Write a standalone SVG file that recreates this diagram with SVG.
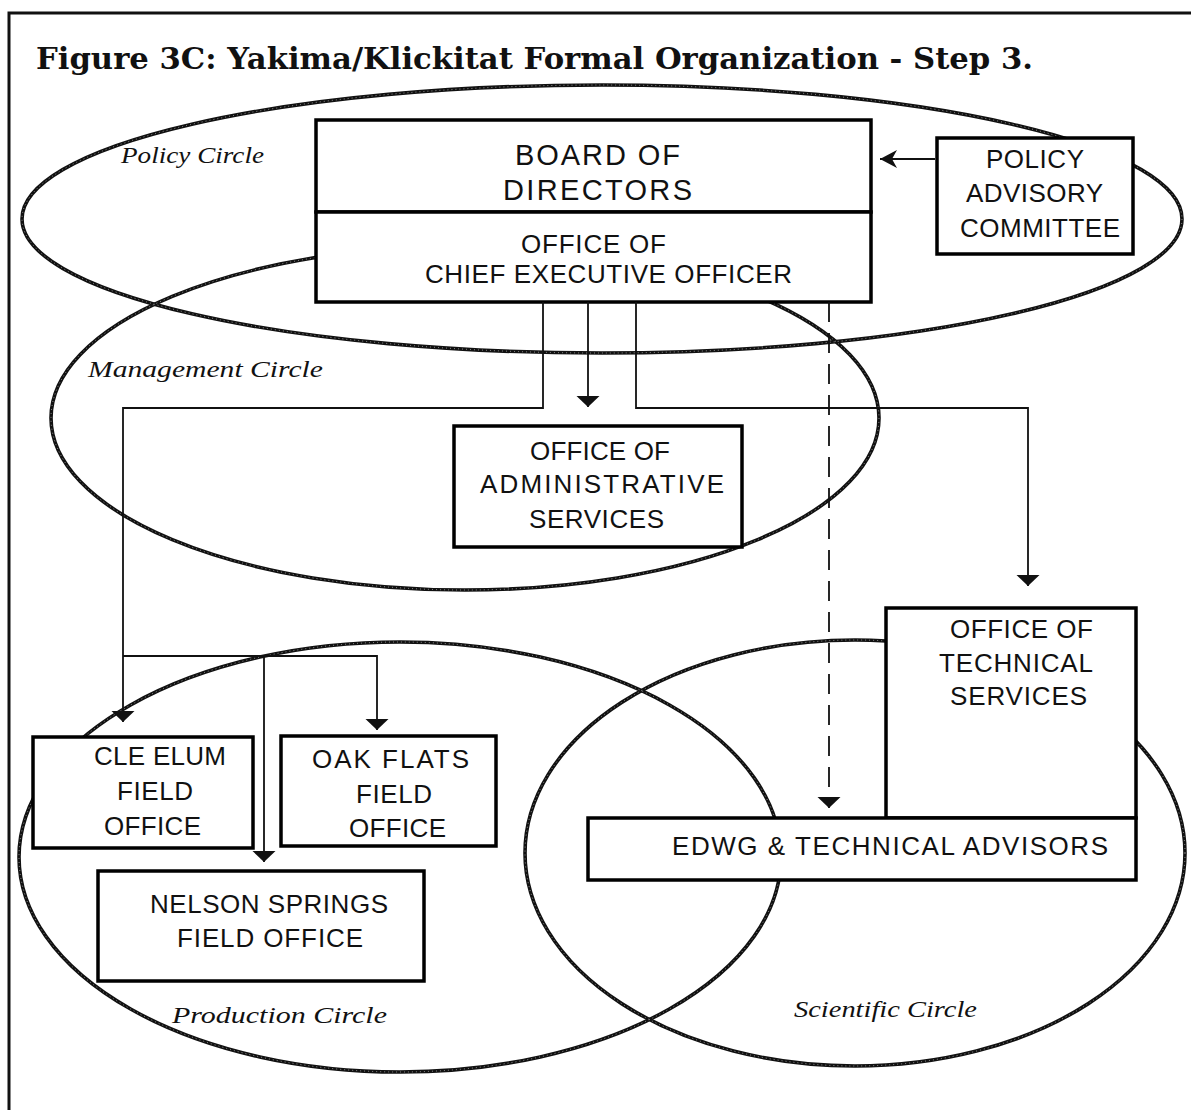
<svg xmlns="http://www.w3.org/2000/svg" width="1191" height="1110" viewBox="0 0 1191 1110">
<style>
.box{fill:#fff;stroke:#000;stroke-width:3.5}
.t{font-family:"Liberation Sans",Arial,sans-serif;font-size:26px;fill:#111}
.tb{font-family:"Liberation Sans",Arial,sans-serif;font-size:29px;fill:#111}
.lbl{font-family:"Liberation Serif","DejaVu Serif",serif;font-style:italic;font-size:24px;fill:#111}
.ell{fill:none;stroke:#111;stroke-width:3.6}
.ellc{fill:none;stroke:#fff;stroke-width:0.9;stroke-dasharray:1 3;opacity:0.6}
.c{fill:none;stroke:#111;stroke-width:1.8}
.d{fill:none;stroke:#111;stroke-width:1.8;stroke-dasharray:20 11}
.frame{fill:none;stroke:#111;stroke-width:3}
.title{font-family:"DejaVu Serif","Liberation Serif",serif;font-weight:bold;font-size:30px;fill:#111}
</style>
<defs>
<marker id="ah" viewBox="0 -12 12 24" refX="11" refY="0" markerWidth="12" markerHeight="24" markerUnits="userSpaceOnUse" orient="auto"><path d="M0,-11.5 L11,0 L0,11.5 z" fill="#111"/></marker>
<marker id="ah2" viewBox="0 -10 18 20" refX="17" refY="0" markerWidth="18" markerHeight="20" markerUnits="userSpaceOnUse" orient="auto"><path d="M0,-9 L17,0 L0,9 L5,0 z" fill="#111"/></marker>
</defs>
<rect width="1191" height="1110" fill="#fff"/>
<path class="frame" d="M9,1110 V13 H1191"/>
<text class="title" x="36" y="69" textLength="997" lengthAdjust="spacingAndGlyphs">Figure 3C: Yakima/Klickitat Formal Organization - Step 3.</text>

<g id="circles">
<ellipse class="ell" cx="602" cy="219" rx="580" ry="134"/>
<ellipse class="ell" cx="465" cy="418" rx="414" ry="172"/>
<ellipse class="ell" cx="400" cy="857" rx="381" ry="215"/>
<ellipse class="ell" cx="855" cy="853" rx="330" ry="213"/>
<ellipse class="ellc" cx="602" cy="219" rx="580" ry="134"/>
<ellipse class="ellc" cx="465" cy="418" rx="414" ry="172"/>
<ellipse class="ellc" cx="400" cy="857" rx="381" ry="215"/>
<ellipse class="ellc" cx="855" cy="853" rx="330" ry="213"/>
<text class="lbl" x="121" y="163" textLength="143" lengthAdjust="spacingAndGlyphs">Policy Circle</text>
<text class="lbl" x="88" y="377" textLength="235" lengthAdjust="spacingAndGlyphs">Management Circle</text>
<text class="lbl" x="172" y="1023" textLength="215" lengthAdjust="spacingAndGlyphs">Production Circle</text>
<text class="lbl" x="794" y="1017" textLength="183" lengthAdjust="spacingAndGlyphs">Scientific Circle</text>
</g>

<g id="board">
<rect class="box" x="316" y="120" width="555" height="92"/>
<text class="tb" x="515" y="165" textLength="165" lengthAdjust="spacing">BOARD OF</text>
<text class="tb" x="503" y="200" textLength="189" lengthAdjust="spacing">DIRECTORS</text>
</g>
<g id="ceo">
<rect class="box" x="316" y="212" width="555" height="90"/>
<text class="t" x="521" y="253" textLength="145" lengthAdjust="spacing">OFFICE OF</text>
<text class="t" x="425" y="283" textLength="367" lengthAdjust="spacing">CHIEF EXECUTIVE OFFICER</text>
</g>
<g id="pac">
<rect class="box" x="937" y="138" width="196" height="116"/>
<text class="t" x="986" y="168" textLength="98" lengthAdjust="spacing">POLICY</text>
<text class="t" x="966" y="202" textLength="137" lengthAdjust="spacing">ADVISORY</text>
<text class="t" x="960" y="237" textLength="160" lengthAdjust="spacing">COMMITTEE</text>
</g>
<g id="admin">
<rect class="box" x="454" y="426" width="288" height="121"/>
<text class="t" x="530" y="460" textLength="140" lengthAdjust="spacing">OFFICE OF</text>
<text class="t" x="480" y="493" textLength="244" lengthAdjust="spacing">ADMINISTRATIVE</text>
<text class="t" x="529" y="528" textLength="135" lengthAdjust="spacing">SERVICES</text>
</g>
<g id="ots">
<rect class="box" x="886" y="608" width="250" height="210"/>
<text class="t" x="950" y="638" textLength="143" lengthAdjust="spacing">OFFICE OF</text>
<text class="t" x="939" y="672" textLength="154" lengthAdjust="spacing">TECHNICAL</text>
<text class="t" x="950" y="705" textLength="137" lengthAdjust="spacing">SERVICES</text>
</g>
<g id="edwg">
<rect class="box" x="588" y="818" width="548" height="62"/>
<text class="t" x="672" y="855" textLength="436" lengthAdjust="spacing">EDWG &amp; TECHNICAL ADVISORS</text>
</g>
<g id="cleelum">
<rect class="box" x="33" y="737" width="220" height="111"/>
<text class="t" x="94" y="765" textLength="132" lengthAdjust="spacing">CLE ELUM</text>
<text class="t" x="117" y="800" textLength="76" lengthAdjust="spacing">FIELD</text>
<text class="t" x="104" y="835" textLength="97" lengthAdjust="spacing">OFFICE</text>
</g>
<g id="oakflats">
<rect class="box" x="281" y="736" width="215" height="110"/>
<text class="t" x="312" y="768" textLength="157" lengthAdjust="spacing">OAK FLATS</text>
<text class="t" x="356" y="803" textLength="76" lengthAdjust="spacing">FIELD</text>
<text class="t" x="349" y="837" textLength="97" lengthAdjust="spacing">OFFICE</text>
</g>
<g id="nelson">
<rect class="box" x="98" y="871" width="326" height="110"/>
<text class="t" x="150" y="913" textLength="238" lengthAdjust="spacing">NELSON SPRINGS</text>
<text class="t" x="177" y="947" textLength="186" lengthAdjust="spacing">FIELD OFFICE</text>
</g>

<g id="connectors">
<path class="c" d="M543,302 V408 H123 V722" marker-end="url(#ah)"/>
<path class="c" d="M123,656 H377 V730" marker-end="url(#ah)"/>
<path class="c" d="M264,656 V862" marker-end="url(#ah)"/>
<path class="c" d="M588,302 V407" marker-end="url(#ah)"/>
<path class="c" d="M636,302 V408 H1028 V586" marker-end="url(#ah)"/>
<path class="d" d="M829,302 V808" marker-end="url(#ah)"/>
<path class="c" d="M935,159 H880" marker-end="url(#ah2)"/>
</g>
</svg>
